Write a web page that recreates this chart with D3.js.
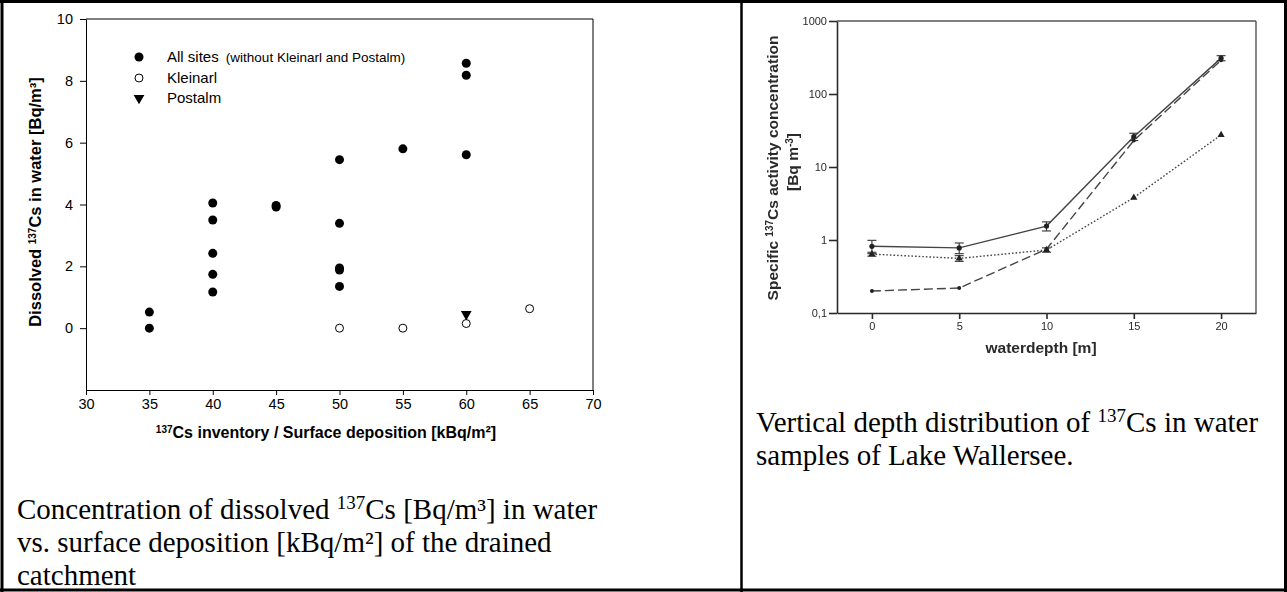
<!DOCTYPE html>
<html><head><meta charset="utf-8">
<script src="https://cdn.jsdelivr.net/npm/d3@7"></script>
<style>body{margin:0;background:#fff} svg{display:block}</style>
</head><body>
<svg id="fig" width="1287" height="592"></svg>
<script>
// ---- Left panel: dissolved 137Cs vs. surface deposition ----
const depositionTicks = [30, 35, 40, 45, 50, 55, 60, 65, 70];
const concTicks = [0, 2, 4, 6, 8, 10];
const allSitesX = [35, 35, 40, 40, 40, 40, 40, 45, 45, 50, 50, 50, 50, 50, 55, 60, 60, 60];
const allSitesY = [0.52, 0, 4.05, 3.5, 2.42, 1.74, 1.17, 3.97, 3.92, 5.45, 3.39, 1.95, 1.88, 1.35, 5.8, 8.57, 8.18, 5.61];
const kleinarlX = [50, 55, 60, 65];
const kleinarlY = [0, 0, 0.15, 0.63];
const postalmX = [60];
const postalmY = [0.42];

// ---- Right panel: depth profile of Lake Wallersee ----
const depths = [0, 5, 10, 15, 20];
const depthTicks = [0, 5, 10, 15, 20];
const logTicks = [0.1, 1, 10, 100, 1000];
const logTickLabels = ["0,1", "1", "10", "100", "1000"];
const seriesSolid = [0.82, 0.78, 1.55, 26, 310];
const seriesSolidErr = [0.17, 0.13, 0.22, 3, 25];
const seriesDashed = [0.2, 0.22, 0.75, 23, 290];
const seriesDotted = [0.64, 0.56, 0.73, 3.8, 27.5];
const seriesDottedErr = [0.04, 0.05, 0.05, 0, 0];

const svg = d3.select("#fig");
const sans = "'Liberation Sans', Arial, sans-serif";
const serif = "'Liberation Serif', 'Times New Roman', serif";

// page table borders
const border = svg.append("g").attr("stroke", "#000").attr("fill", "none");
border.append("line").attr("x1", 0).attr("x2", 1287).attr("y1", 1.5).attr("y2", 1.5).attr("stroke-width", 3);
border.append("line").attr("x1", 0).attr("x2", 1287).attr("y1", 590).attr("y2", 590).attr("stroke-width", 3);
border.append("line").attr("x1", 2).attr("x2", 2).attr("y1", 0).attr("y2", 592).attr("stroke-width", 3);
border.append("line").attr("x1", 741.5).attr("x2", 741.5).attr("y1", 0).attr("y2", 592).attr("stroke-width", 2.5);
border.append("line").attr("x1", 1285.5).attr("x2", 1285.5).attr("y1", 0).attr("y2", 592).attr("stroke-width", 3);

// ================= left scatter plot =================
const xL = d3.scaleLinear().domain([30, 70]).range([86, 593]);
const yL = d3.scaleLinear().domain([-2, 10]).range([390, 19]);
const left = svg.append("g");

const axL = left.append("g").attr("transform", `translate(0,${yL(-2)})`)
  .call(d3.axisBottom(xL).tickValues(depositionTicks).tickSize(5).tickPadding(4).tickSizeOuter(0));
const ayL = left.append("g").attr("transform", `translate(${xL(30)},0)`)
  .call(d3.axisLeft(yL).tickValues(concTicks).tickSize(6).tickPadding(7).tickSizeOuter(0));
[axL, ayL].forEach(a => {
  a.selectAll("path,line").attr("stroke", "#000").attr("stroke-width", 1);
  a.selectAll("text").attr("font-family", sans).attr("font-size", 14.5).attr("fill", "#000");
});
// frame top / right
left.append("line").attr("x1", xL(30)).attr("x2", xL(70)).attr("y1", yL(10)).attr("y2", yL(10)).attr("stroke", "#000");
left.append("line").attr("x1", xL(70)).attr("x2", xL(70)).attr("y1", yL(10)).attr("y2", yL(-2)).attr("stroke", "#000");

// points
left.append("g").selectAll("circle").data(allSitesX).join("circle")
  .attr("cx", (d, i) => xL(d)).attr("cy", (d, i) => yL(allSitesY[i])).attr("r", 4.5).attr("fill", "#000");
left.append("g").selectAll("circle").data(kleinarlX).join("circle")
  .attr("cx", d => xL(d)).attr("cy", (d, i) => yL(kleinarlY[i])).attr("r", 4)
  .attr("fill", "#fff").attr("stroke", "#000").attr("stroke-width", 1);
const triDown = d3.symbol().type(d3.symbolTriangle).size(50);
left.append("g").selectAll("path").data(postalmX).join("path")
  .attr("d", triDown)
  .attr("transform", (d, i) => `translate(${xL(d)},${yL(postalmY[i]) - 1}) rotate(180)`).attr("fill", "#000");

// legend
const lg = left.append("g").attr("font-family", sans).attr("fill", "#000");
lg.append("circle").attr("cx", 139).attr("cy", 57).attr("r", 4.5).attr("fill", "#000");
lg.append("circle").attr("cx", 139).attr("cy", 78).attr("r", 4).attr("fill", "#fff").attr("stroke", "#000");
lg.append("path").attr("d", triDown).attr("transform", "translate(139,98) rotate(180)").attr("fill", "#000");
const t1 = lg.append("text").attr("x", 167).attr("y", 62).attr("font-size", 15);
t1.append("tspan").text("All sites  ");
t1.append("tspan").attr("font-size", 13.5).attr("dx", 3).text("(without Kleinarl and Postalm)");
lg.append("text").attr("x", 167).attr("y", 83).attr("font-size", 15).text("Kleinarl");
lg.append("text").attr("x", 167).attr("y", 103).attr("font-size", 15).text("Postalm");

// axis titles
const yt = left.append("text").attr("transform", "translate(41,202) rotate(-90)")
  .attr("text-anchor", "middle").attr("font-family", sans).attr("font-weight", "bold").attr("font-size", 16.5);
yt.append("tspan").text("Dissolved ");
yt.append("tspan").attr("font-size", 10).attr("baseline-shift", "super").text("137");
yt.append("tspan").text("Cs in water [Bq/m³]");
const xt = left.append("text").attr("x", 326).attr("y", 438)
  .attr("text-anchor", "middle").attr("font-family", sans).attr("font-weight", "bold").attr("font-size", 16);
xt.append("tspan").attr("font-size", 10).attr("baseline-shift", "super").text("137");
xt.append("tspan").text("Cs inventory / Surface deposition [kBq/m²]");

// caption
const capL = left.append("g").attr("font-family", serif).attr("font-size", 29).attr("fill", "#000");
const c1 = capL.append("text").attr("x", 17).attr("y", 519);
c1.append("tspan").text("Concentration of dissolved ");
c1.append("tspan").attr("font-size", 19).attr("baseline-shift", "super").text("137");
c1.append("tspan").text("Cs [Bq/m³] in water");
capL.append("text").attr("x", 17).attr("y", 552).text("vs. surface deposition [kBq/m²] of the drained");
capL.append("text").attr("x", 17).attr("y", 585).text("catchment");

// ================= right depth profile =================
const xR = d3.scaleLinear().domain([-2, 22]).range([837, 1256]);
const yR = d3.scaleLog().domain([0.1, 1000]).range([313, 21]);
const defs = svg.append("defs");
defs.append("filter").attr("id", "soft").append("feGaussianBlur").attr("stdDeviation", 0.45);
const right = svg.append("g").attr("filter", "url(#soft)");
const ink = "#2a2a2a";

const axR = right.append("g").attr("transform", `translate(0,${yR(0.1)})`)
  .call(d3.axisBottom(xR).tickValues(depthTicks).tickSize(6).tickPadding(3).tickSizeOuter(0));
const ayR = right.append("g").attr("transform", `translate(${xR(-2)},0)`)
  .call(d3.axisLeft(yR).tickValues(logTicks).tickFormat((d, i) => logTickLabels[i]).tickSize(8).tickPadding(2).tickSizeOuter(0));
[axR, ayR].forEach(a => {
  a.selectAll("path,line").attr("stroke", ink).attr("stroke-width", 1.6);
  a.selectAll("text").attr("font-family", sans).attr("font-size", 11).attr("fill", ink);
});
right.append("line").attr("x1", xR(-2)).attr("x2", xR(22)).attr("y1", yR(1000)).attr("y2", yR(1000)).attr("stroke", "#555").attr("stroke-width", 1.4);
right.append("line").attr("x1", xR(22)).attr("x2", xR(22)).attr("y1", yR(1000)).attr("y2", yR(0.1)).attr("stroke", "#555").attr("stroke-width", 1.4);

const lineGen = vals => d3.line().x((d, i) => xR(depths[i])).y(d => yR(d))(vals);
right.append("path").attr("d", lineGen(seriesSolid)).attr("fill", "none").attr("stroke", "#444").attr("stroke-width", 1.4);
right.append("path").attr("d", lineGen(seriesDashed)).attr("fill", "none").attr("stroke", "#444").attr("stroke-width", 1.4).attr("stroke-dasharray", "9,4");
right.append("path").attr("d", lineGen(seriesDotted)).attr("fill", "none").attr("stroke", "#444").attr("stroke-width", 1.4).attr("stroke-dasharray", "1.6,2");

// error bars
function errorBars(vals, errs) {
  const g = right.append("g").attr("stroke", "#333").attr("stroke-width", 1.1);
  vals.forEach((v, i) => {
    if (!errs[i]) return;
    const cx = xR(depths[i]), y0 = yR(v - errs[i]), y1 = yR(v + errs[i]);
    g.append("line").attr("x1", cx).attr("x2", cx).attr("y1", y0).attr("y2", y1);
    g.append("line").attr("x1", cx - 4.5).attr("x2", cx + 4.5).attr("y1", y0).attr("y2", y0);
    g.append("line").attr("x1", cx - 4.5).attr("x2", cx + 4.5).attr("y1", y1).attr("y2", y1);
  });
}
errorBars(seriesSolid, seriesSolidErr);
errorBars(seriesDotted, seriesDottedErr);

// markers
right.append("g").selectAll("circle").data(seriesSolid).join("circle")
  .attr("cx", (d, i) => xR(depths[i])).attr("cy", d => yR(d)).attr("r", 2.6).attr("fill", "#222");
right.append("g").selectAll("circle").data(seriesDashed).join("circle")
  .attr("cx", (d, i) => xR(depths[i])).attr("cy", d => yR(d)).attr("r", 2).attr("fill", "#222");
right.append("g").selectAll("path").data(seriesDotted).join("path")
  .attr("d", d3.symbol().type(d3.symbolTriangle).size(22))
  .attr("transform", (d, i) => `translate(${xR(depths[i])},${yR(d)})`).attr("fill", "#222");

// axis titles
const ryt = right.append("text").attr("transform", "translate(778,168) rotate(-90)")
  .attr("text-anchor", "middle").attr("font-family", sans).attr("font-weight", "bold").attr("font-size", 15.5).attr("fill", ink);
ryt.append("tspan").text("Specific ");
ryt.append("tspan").attr("font-size", 10).attr("baseline-shift", "super").text("137");
ryt.append("tspan").text("Cs activity concentration");
const ryt2 = right.append("text").attr("transform", "translate(798,162) rotate(-90)")
  .attr("text-anchor", "middle").attr("font-family", sans).attr("font-weight", "bold").attr("font-size", 15.5).attr("fill", ink);
ryt2.append("tspan").text("[Bq m");
ryt2.append("tspan").attr("font-size", 10).attr("baseline-shift", "super").text("-3");
ryt2.append("tspan").text("]");
right.append("text").attr("x", 1041).attr("y", 353).attr("text-anchor", "middle")
  .attr("font-family", sans).attr("font-weight", "bold").attr("font-size", 15.5).attr("fill", ink).text("waterdepth [m]");

// caption
const capR = svg.append("g").attr("font-family", serif).attr("font-size", 29).attr("fill", "#000");
const r1 = capR.append("text").attr("x", 756).attr("y", 432);
r1.append("tspan").text("Vertical depth distribution of ");
r1.append("tspan").attr("font-size", 19).attr("baseline-shift", "super").text("137");
r1.append("tspan").text("Cs in water");
capR.append("text").attr("x", 756).attr("y", 465).text("samples of Lake Wallersee.");
</script>
</body></html>
